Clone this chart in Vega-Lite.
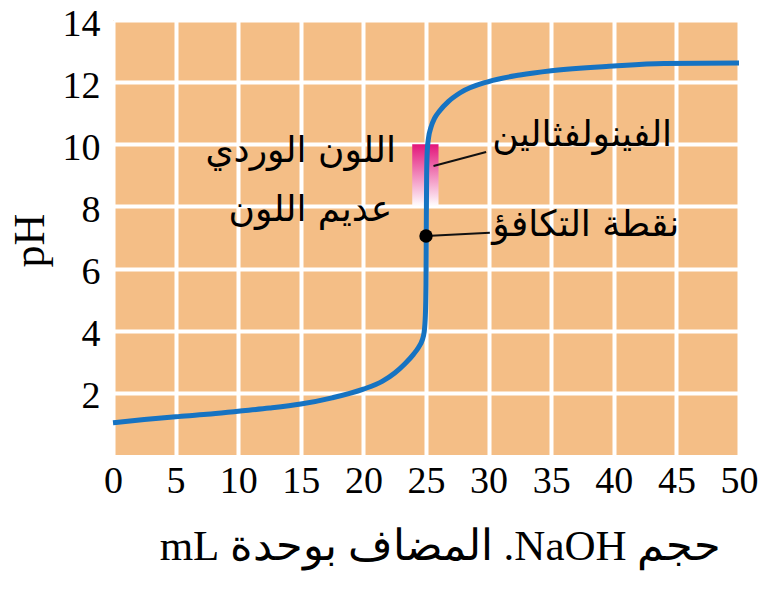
{
  "$schema": "https://vega.github.io/schema/vega-lite/v6.json",
  "width": 626,
  "height": 435,
  "autosize": {"type": "none"},
  "padding": {"left": 113, "top": 20, "right": 19, "bottom": 142},
  "background": "#ffffff",
  "config": {
    "view": {"stroke": null, "fill": "#F4BE86"},
    "font": "Liberation Serif"
  },
  "datasets": {
    "curve": [
      {"v": 0, "ph": 1.04}, {"v": 2.5, "ph": 1.14}, {"v": 5, "ph": 1.23}, {"v": 7.5, "ph": 1.31},
      {"v": 10, "ph": 1.41}, {"v": 12.5, "ph": 1.51}, {"v": 15, "ph": 1.64}, {"v": 17.5, "ph": 1.84},
      {"v": 20, "ph": 2.12}, {"v": 21.5, "ph": 2.37}, {"v": 22.5, "ph": 2.64}, {"v": 23.3, "ph": 2.93},
      {"v": 24, "ph": 3.24}, {"v": 24.4, "ph": 3.46}, {"v": 24.7, "ph": 3.7}, {"v": 24.85, "ph": 3.95},
      {"v": 24.95, "ph": 4.5}, {"v": 25.0, "ph": 5.5}, {"v": 25.02, "ph": 7}, {"v": 25.05, "ph": 9.0},
      {"v": 25.1, "ph": 9.8}, {"v": 25.2, "ph": 10.2}, {"v": 25.4, "ph": 10.55}, {"v": 25.7, "ph": 10.85},
      {"v": 26.1, "ph": 11.08}, {"v": 26.8, "ph": 11.38}, {"v": 27.7, "ph": 11.65},
      {"v": 30, "ph": 12.02}, {"v": 32.5, "ph": 12.23}, {"v": 35, "ph": 12.37}, {"v": 40, "ph": 12.52},
      {"v": 44, "ph": 12.6}, {"v": 50, "ph": 12.62}
    ],
    "band": [{"x1": 23.9, "x2": 26.0, "y1": 8, "y2": 10}],
    "leaders": [
      {"x1": 25.6, "y1": 9.3, "x2": 29.8, "y2": 9.75},
      {"x1": 25.0, "y1": 7.05, "x2": 30.1, "y2": 7.15}
    ],
    "eq": [{"v": 25.0, "ph": 7.05}],
    "labelsLeft": [
      {"x": 30.3, "y": 10.3, "t": "الفينولفثالين"},
      {"x": 30.3, "y": 7.4, "t": "نقطة التكافؤ"}
    ],
    "labelsRight": [
      {"x": 22.6, "y": 9.8, "t": "اللون الوردي"},
      {"x": 22.3, "y": 7.9, "t": "عديم اللون"}
    ]
  },
  "layer": [
    {
      "data": {"name": "band"},
      "mark": {
        "type": "rect",
        "color": {
          "gradient": "linear", "x1": 0, "y1": 0, "x2": 0, "y2": 1,
          "stops": [{"offset": 0, "color": "#E3157A"}, {"offset": 1, "color": "#FFFFFF"}]
        }
      },
      "encoding": {
        "x": {
          "field": "x1", "type": "quantitative",
          "scale": {"domain": [0, 50], "nice": false, "zero": false},
          "axis": {
            "values": [0, 5, 10, 15, 20, 25, 30, 35, 40, 45, 50],
            "domain": false, "ticks": false,
            "grid": true, "gridColor": "#ffffff", "gridWidth": 4, "gridOpacity": 1,
            "labelFont": "Liberation Serif", "labelFontSize": 38, "labelColor": "#000000",
            "labelPadding": 7, "labelFlush": false, "labelOverlap": false,
            "title": "\u202Bحجم NaOH. المضاف بوحدة mL\u202C",
            "titleFont": "Liberation Serif", "titleFontSize": 43, "titleFontWeight": "normal",
            "titleColor": "#000000", "titleX": 327, "titleY": 104,
            "titleAlign": "center", "titleBaseline": "alphabetic", "titleAnchor": null
          }
        },
        "x2": {"field": "x2"},
        "y": {
          "field": "y1", "type": "quantitative",
          "scale": {"domain": [0, 14], "nice": false, "zero": false},
          "axis": {
            "values": [2, 4, 6, 8, 10, 12, 14],
            "domain": false, "ticks": false,
            "grid": true, "gridColor": "#ffffff", "gridWidth": 4, "gridOpacity": 1,
            "labelFont": "Liberation Serif", "labelFontSize": 38, "labelColor": "#000000",
            "labelPadding": 13, "labelOffset": 4, "labelFlush": false, "labelOverlap": false,
            "title": "pH",
            "titleFont": "Liberation Serif", "titleFontSize": 44, "titleFontWeight": "normal",
            "titleColor": "#000000", "titleX": -70, "titleY": 220, "titleAngle": -90,
            "titleAlign": "center", "titleBaseline": "alphabetic", "titleAnchor": null
          }
        },
        "y2": {"field": "y2"}
      }
    },
    {
      "data": {"name": "curve"},
      "mark": {"type": "line", "color": "#1673C2", "strokeWidth": 5, "interpolate": "monotone", "strokeCap": "butt"},
      "encoding": {
        "x": {"field": "v", "type": "quantitative"},
        "y": {"field": "ph", "type": "quantitative"}
      }
    },
    {
      "data": {"name": "leaders"},
      "mark": {"type": "rule", "color": "#111111", "strokeWidth": 2},
      "encoding": {
        "x": {"field": "x1", "type": "quantitative"},
        "y": {"field": "y1", "type": "quantitative"},
        "x2": {"field": "x2"},
        "y2": {"field": "y2"}
      }
    },
    {
      "data": {"name": "eq"},
      "mark": {"type": "point", "filled": true, "color": "#000000", "size": 180, "opacity": 1},
      "encoding": {
        "x": {"field": "v", "type": "quantitative"},
        "y": {"field": "ph", "type": "quantitative"}
      }
    },
    {
      "data": {"name": "labelsLeft"},
      "mark": {"type": "text", "align": "left", "baseline": "middle", "fontSize": 36, "color": "#000000", "font": "DejaVu Sans"},
      "encoding": {
        "x": {"field": "x", "type": "quantitative"},
        "y": {"field": "y", "type": "quantitative"},
        "text": {"field": "t"}
      }
    },
    {
      "data": {"name": "labelsRight"},
      "mark": {"type": "text", "align": "right", "baseline": "middle", "fontSize": 36, "color": "#000000", "font": "DejaVu Sans"},
      "encoding": {
        "x": {"field": "x", "type": "quantitative"},
        "y": {"field": "y", "type": "quantitative"},
        "text": {"field": "t"}
      }
    }
  ]
}
